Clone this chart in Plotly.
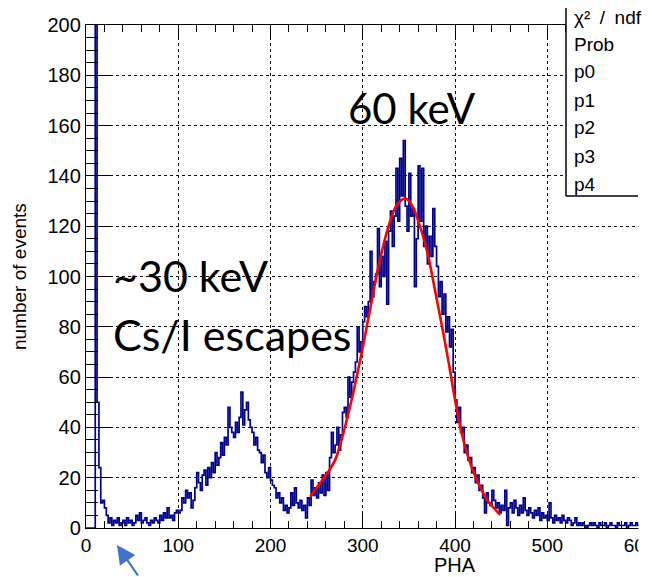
import plotly.graph_objects as go

# ---------------- data ----------------
BIN_WIDTH = 2  # PHA units per histogram bin, first bin starts at 0

counts = [
    0, 0, 0, 0, 0, 400, 50, 24, 10, 11,        # 0-18
    8, 5, 2, 4, 1, 3, 2, 4, 1, 2,              # 20-38
    3, 1, 4, 2, 3, 1, 2, 5, 3, 6,              # 40-58
    2, 3, 4, 2, 1, 3, 2, 4, 3, 2,              # 60-78
    5, 3, 6, 4, 8, 4, 5, 3, 6, 7,              # 80-98
    6, 7, 12, 10, 15, 12, 14, 8, 11, 16,       # 100-118
    22, 18, 15, 21, 23, 17, 24, 20, 26, 22,    # 120-138
    30, 25, 28, 34, 29, 36, 33, 48, 40, 38,    # 140-158
    36, 42, 38, 44, 54, 41, 47, 50, 43, 40,    # 160-178
    38, 33, 36, 31, 30, 26, 29, 22, 20, 24,    # 180-198
    19, 17, 16, 12, 14, 10, 12, 7, 9, 6,       # 200-218
    8, 14, 9, 16, 10, 8, 11, 7, 9, 4,          # 220-238
    12, 9, 19, 13, 16, 12, 18, 14, 21, 13,     # 240-258
    22, 15, 28, 38, 30, 33, 40, 31, 37, 46,    # 260-278
    48, 44, 60, 52, 58, 62, 66, 80, 70, 74,    # 280-298
    82, 88, 84, 90, 110, 92, 98, 101, 119, 96, # 300-318
    108, 100, 114, 89, 118, 126, 112, 124, 143, 122,  # 320-338
    147, 132, 154, 128, 118, 141, 124, 127, 96, 115,  # 340-358
    144, 122, 143, 112, 120, 105, 116, 108, 127, 112, # 360-378
    104, 92, 98, 85, 93, 78, 84, 72, 79, 62,   # 380-398
    51, 42, 48, 38, 40, 30, 33, 27, 28, 22,    # 400-418
    24, 18, 21, 15, 17, 12, 6, 14, 10, 9,      # 420-438
    15, 11, 8, 10, 6, 9, 7, 15, 1, 8,          # 440-458
    10, 6, 11, 8, 5, 9, 6, 12, 7, 5,           # 460-478
    8, 6, 4, 7, 5, 8, 3, 6, 4, 5,              # 480-498
    3, 10, 4, 2, 5, 3, 4, 2, 5, 3,             # 500-518
    2, 4, 3, 1, 2, 4, 1, 2, 1, 2,              # 520-538
    1, 0, 1, 2, 1, 2, 1, 0, 2, 1,              # 540-558
    1, 2, 0, 1, 2, 1, 1, 0, 2, 1,              # 560-578
    1, 1, 2, 0, 1, 2, 1, 1, 2, 1,              # 580-598
]

# red fit curve
fit_x = [243, 250, 259, 270, 277, 286, 291, 299, 310, 317, 328, 337, 346,
         353, 362, 371, 378, 386, 393, 400, 407, 414, 422, 429, 436, 442, 449]
fit_y = [12.4, 16, 20.4, 27, 35, 48, 56, 70, 91, 104, 120, 128.5, 131,
         128.5, 120, 108, 95, 80, 66, 51, 38, 28.5, 20.5, 15, 10.5, 8, 5.2]

x_title = "PHA"
y_title = "number of events"
stats_labels = ["χ²\u2002/\u2002ndf", "Prob", "p0", "p1", "p2", "p3", "p4"]
note_peak = "60 keV"
note_escape_1 = "~30 keV"
note_escape_2 = "Cs/I escapes"

# ---------------- geometry helpers ----------------
# the page body has an 8 px margin, so the figure is drawn 8 px smaller and
# all window coordinates below are shifted by that amount
OFF = 8
WIN_W, WIN_H = 652, 577
W, H = WIN_W - OFF, WIN_H - OFF
# plot frame in window pixels
FX0, FX1, FY0, FY1 = 86, 640, 25, 528
L, R, T, B = FX0 - OFF, WIN_W - FX1, FY0 - OFF, WIN_H - FY1
PW, PH = FX1 - FX0, FY1 - FY0


def px(x):
    return (x - FX0) / PW


def py(y):
    return (FY1 - y) / PH


bin_edges = [i * BIN_WIDTH for i in range(len(counts) + 1)]
step_y = counts + [counts[-1]]

fig = go.Figure()
fig.add_trace(go.Scatter(
    x=bin_edges, y=step_y, mode="lines", line_shape="hv",
    line=dict(color="#00008c", width=1.7), hoverinfo="skip"))
fig.add_trace(go.Scatter(
    x=fit_x, y=fit_y, mode="lines", line_shape="spline",
    line=dict(color="#ff0000", width=2.6), hoverinfo="skip"))

axis_common = dict(
    ticks="inside", tickcolor="black", tickwidth=1.3,
    showline=True, linecolor="black", linewidth=1.3,
    showgrid=True, gridcolor="#111111", griddash="dot", gridwidth=1,
    zeroline=False, automargin=False,
)

fig.update_xaxes(
    range=[0, 600.5], tickmode="linear", tick0=0, dtick=100, ticklen=15,
    mirror="ticks", ticklabeloverflow="allow",
    tickfont=dict(size=19, family="Liberation Sans, Arial", color="black"),
    minor=dict(tick0=0, dtick=20, ticks="inside", ticklen=7, tickwidth=1.3,
               tickcolor="black", showgrid=False),
    **axis_common)
fig.update_yaxes(
    range=[0, 200], tickmode="linear", tick0=0, dtick=20, ticklen=24,
    mirror=False,
    tickfont=dict(size=20, family="Liberation Sans, Arial", color="black"),
    minor=dict(tick0=0, dtick=5, ticks="inside", ticklen=12, tickwidth=1.3,
               tickcolor="black", showgrid=False),
    **axis_common)

shapes = [
    # stats box (white, left and bottom border visible)
    dict(type="rect", xref="paper", yref="paper", x0=px(566), x1=px(700),
         y0=py(196), y1=py(-10), fillcolor="white", line=dict(width=0), layer="above"),
    dict(type="line", xref="paper", yref="paper", x0=px(566), x1=px(566),
         y0=py(196), y1=py(-5), line=dict(color="black", width=1.5), layer="above"),
    dict(type="line", xref="paper", yref="paper", x0=px(566), x1=px(638),
         y0=py(196), y1=py(196), line=dict(color="black", width=1.5), layer="above"),
    # cropped right edge
    dict(type="rect", xref="paper", yref="paper", x0=px(638.5), x1=px(700),
         y0=py(600), y1=py(197.5), fillcolor="white", line=dict(width=0), layer="above"),
]

annotations = [
    dict(text=y_title, xref="paper", yref="paper", x=px(19), y=py(277),
         textangle=-90, showarrow=False, xanchor="center", yanchor="middle",
         font=dict(size=19, family="Liberation Sans, Arial", color="black")),
    dict(text=x_title, xref="paper", yref="paper", x=px(455), y=py(565),
         showarrow=False, xanchor="center", yanchor="middle",
         font=dict(size=20, family="Liberation Sans, Arial", color="black")),
    dict(text=note_peak, xref="paper", yref="paper", x=px(346), y=py(108),
         showarrow=False, xanchor="left", yanchor="middle",
         font=dict(size=42, family="Lato", color="black")),
    dict(text=note_escape_1, xref="paper", yref="paper", x=px(111), y=py(275),
         showarrow=False, xanchor="left", yanchor="middle",
         font=dict(size=43, family="Lato", color="black")),
    dict(text=note_escape_2, xref="paper", yref="paper", x=px(111), y=py(334),
         showarrow=False, xanchor="left", yanchor="middle",
         font=dict(size=43, family="Lato", color="black")),
    dict(text="", xref="paper", yref="paper", x=px(117), y=py(545),
         showarrow=True, ax=22, ay=42, arrowhead=2, arrowsize=1.7,
         arrowwidth=2.2, arrowcolor="#4472C4"),
]
stats_y = [17, 44, 72, 100, 128, 156, 184]
for lab, yy in zip(stats_labels, stats_y):
    annotations.append(dict(
        text=lab, xref="paper", yref="paper", x=px(572), y=py(yy),
        showarrow=False, xanchor="left", yanchor="middle",
        font=dict(size=19, family="Liberation Sans, Arial", color="black")))

fig.update_layout(
    width=W, height=H, margin=dict(l=L, r=R, t=T, b=B),
    plot_bgcolor="white", paper_bgcolor="white", showlegend=False,
    shapes=shapes, annotations=annotations,
)

fig.write_html("out.html")
